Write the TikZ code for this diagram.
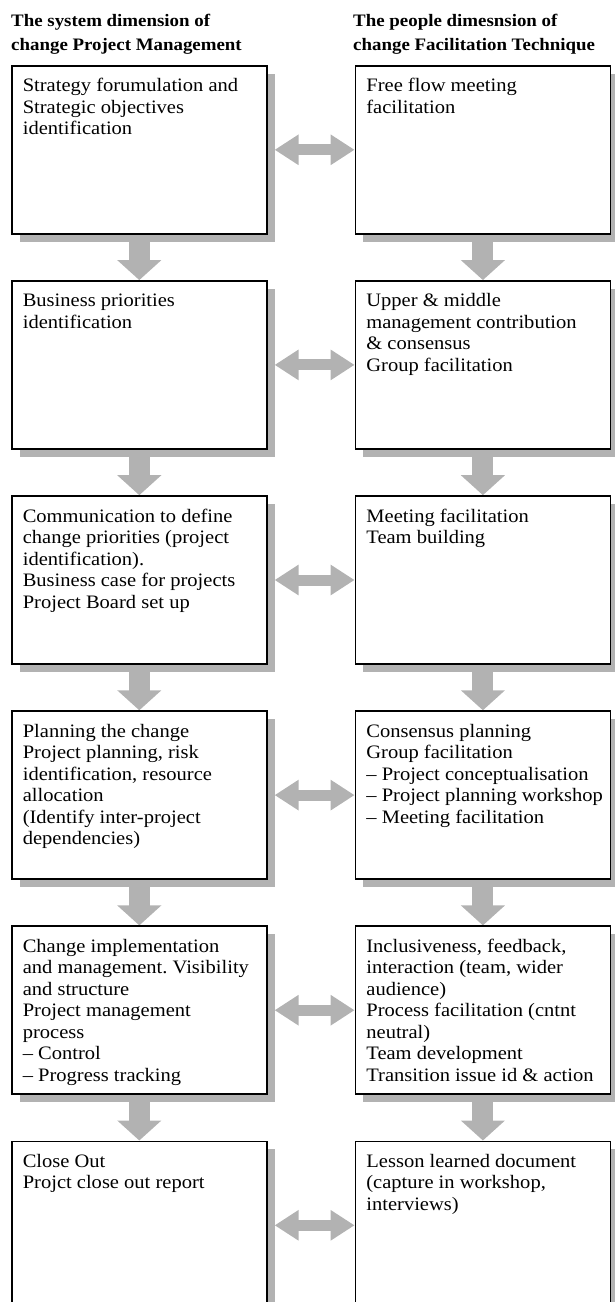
\documentclass[tikz,border=0pt]{standalone}
\usepackage{fontspec}
\setmainfont{Liberation Serif}[FakeStretch=1.08]
\usetikzlibrary{arrows.meta,positioning,shadows,backgrounds}
\definecolor{arrowgray}{RGB}{178,178,178}

\begin{document}
\begin{tikzpicture}[node distance=45.5pt and 87pt,
    stage/.style={rectangle, draw, line width=1.6pt, fill=white, inner xsep=5pt, inner ysep=11pt,
        drop shadow={shadow xshift=8pt, shadow yshift=-8pt, fill=arrowgray, opacity=1},
        font=\fontsize{19}{21.5}\selectfont,
        execute at begin node={\begin{minipage}[t][146pt][t]{245pt}\frenchspacing
            \leftskip=6pt\rightskip=-15pt plus 1fil\hyphenpenalty=10000\strut},
        execute at end node={\end{minipage}}},
    heading/.style={font=\bfseries\fontsize{17.5}{24}\selectfont, align=left, inner sep=0pt, anchor=north west},
    flow/.style={arrowgray, line width=21pt, -{Triangle[width=43pt, length=20pt]}},
    link/.style={arrowgray, line width=11pt, shorten <=7pt,
        {Triangle[width=29pt, length=24pt]}-{Triangle[width=29pt, length=24pt]}}]
    \useasboundingbox (0,0) rectangle (615pt,-1302pt);

    % Column headings
    \node[heading] (sys_head) at (11pt,-14pt) {The system dimension of\\change Project Management};
    \node[heading] (ppl_head) at (353pt,-14pt) {The people dimesnsion of\\change Facilitation Technique};

    % System dimension
    \node[stage, anchor=north west] (strategy) at (11pt,-65pt) {Strategy forumulation and\\Strategic objectives\\identification};
    \node[stage, below=of strategy] (priorities) {Business priorities\\identification};
    \node[stage, below=of priorities] (communication) {Communication to define\\change priorities (project\\identification).\\Business case for projects\\Project Board set up};
    \node[stage, below=of communication] (planning) {Planning the change\\Project planning, risk\\identification, resource\\allocation\\(Identify inter-project\\dependencies)};
    \node[stage, below=of planning] (implementation) {Change implementation\\and management. Visibility\\and structure\\Project management\\process\\-- Control\\-- Progress tracking};
    \node[stage, below=of implementation] (close_out) {Close Out\\Projct close out report};

    % People dimension
    \node[stage, right=of strategy] (free_flow) {Free flow meeting\\facilitation};
    \node[stage, right=of priorities] (contribution) {Upper \& middle\\management contribution\\\& consensus\\Group facilitation};
    \node[stage, right=of communication] (meeting) {Meeting facilitation\\Team building};
    \node[stage, right=of planning] (consensus) {Consensus planning\\Group facilitation\\-- Project conceptualisation\\-- Project planning workshop\\-- Meeting facilitation};
    \node[stage, right=of implementation] (inclusiveness) {Inclusiveness, feedback,\\interaction (team, wider\\audience)\\Process facilitation (cntnt\\neutral)\\Team development\\Transition issue id \& action};
    \node[stage, right=of close_out] (lessons) {Lesson learned document\\(capture in workshop,\\interviews)};

    % Arrows behind the boxes
    \begin{scope}[on background layer]
        \draw[flow] (strategy) -- (priorities);
        \draw[flow] (priorities) -- (communication);
        \draw[flow] (communication) -- (planning);
        \draw[flow] (planning) -- (implementation);
        \draw[flow] (implementation) -- (close_out);

        \draw[flow] (free_flow) -- (contribution);
        \draw[flow] (contribution) -- (meeting);
        \draw[flow] (meeting) -- (consensus);
        \draw[flow] (consensus) -- (inclusiveness);
        \draw[flow] (inclusiveness) -- (lessons);

        \draw[link] (strategy) -- (free_flow);
        \draw[link] (priorities) -- (contribution);
        \draw[link] (communication) -- (meeting);
        \draw[link] (planning) -- (consensus);
        \draw[link] (implementation) -- (inclusiveness);
        \draw[link] (close_out) -- (lessons);
    \end{scope}
\end{tikzpicture}
\end{document}
